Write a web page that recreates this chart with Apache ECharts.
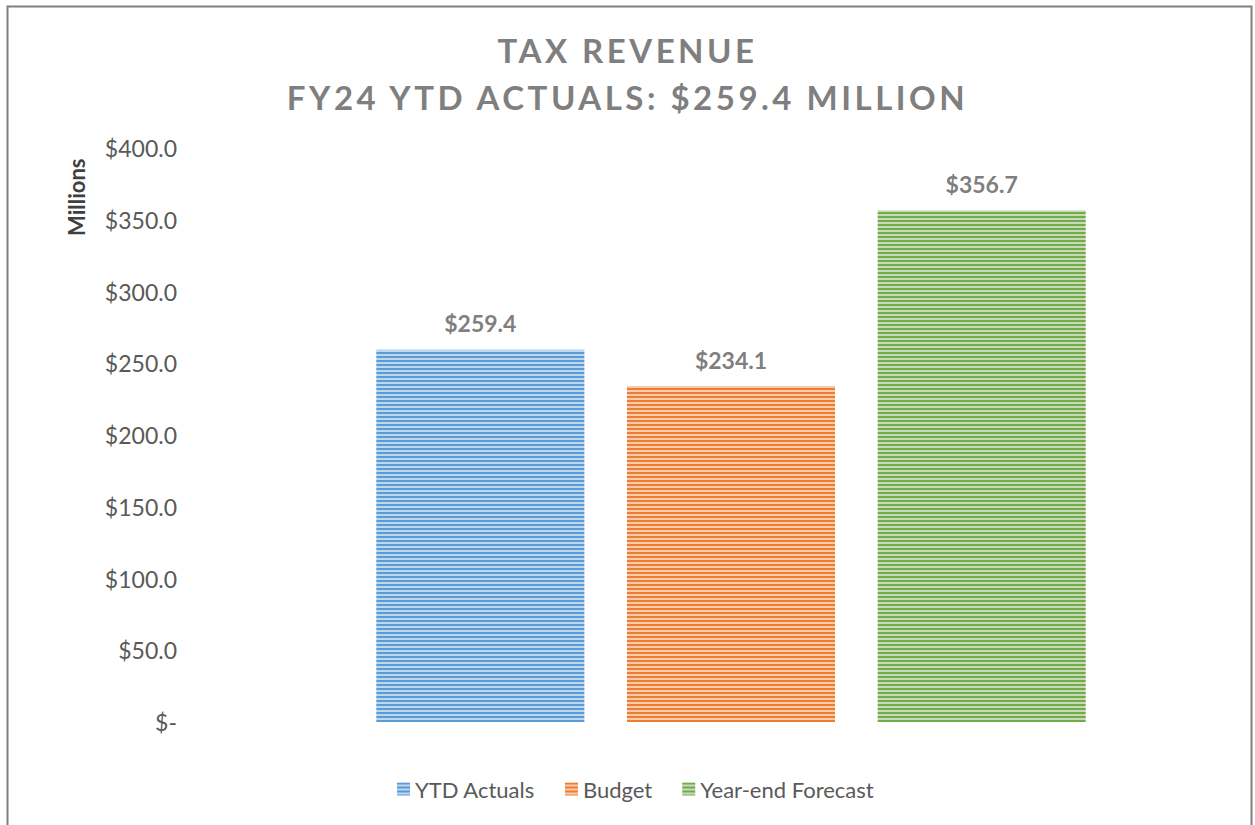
<!DOCTYPE html>
<html>
<head>
<meta charset="utf-8">
<script src="https://cdn.jsdelivr.net/npm/echarts@6/dist/echarts.min.js"></script>
<style>
  html, body { margin: 0; padding: 0; background: #fff; }
  #chart { width: 1255px; height: 825px; }
  /* Excel-style spaced title letters */
  #chart text[style*="TitleFace"] { letter-spacing: 3.5px; }
</style>
</head>
<body>
<div id="chart"></div>
<script>
const categories = ['YTD Actuals', 'Budget', 'Year-end Forecast']
const values = [259.4, 234.1, 356.7]
const yTickLabels = ['$-', '$50.0', '$100.0', '$150.0', '$200.0', '$250.0', '$300.0', '$350.0', '$400.0']
const barColors = [['#5B9BD5', '#BDD7EE'], ['#ED7D31', '#F8CBAD'], ['#70AD47', '#C9D9BE']]

// horizontal stripe fill
function stripes (dark, light) {
  const c = document.createElement('canvas')
  c.width = 4
  c.height = 4
  const ctx = c.getContext('2d')
  ctx.fillStyle = light
  ctx.fillRect(0, 0, 4, 4)
  ctx.fillStyle = dark
  ctx.fillRect(0, 0, 4, 2)
  return { image: c.toDataURL(), repeat: 'repeat' }
}

const chart = echarts.init(document.getElementById('chart'), null, { renderer: 'svg' })

const series = categories.map((name, i) => ({
  name: name,
  type: 'bar',
  stack: 'one',
  barCategoryGap: '17%',
  data: categories.map((c, j) => (j === i ? values[i] : '-')),
  itemStyle: { color: stripes(barColors[i][0], barColors[i][1]) },
  label: {
    show: true,
    position: 'top',
    distance: 15,
    color: '#7f7f7f',
    fontFamily: 'Lato',
    fontWeight: 'bold',
    fontSize: 23,
    formatter: p => '$' + p.value.toFixed(1)
  }
}))

chart.setOption({
  animation: false,
  title: {
    text: 'TAX REVENUE\nFY24 YTD ACTUALS: $259.4 MILLION',
    left: 'center',
    top: 21,
    textStyle: {
      fontFamily: 'Lato, TitleFace',
      fontWeight: 'bold',
      fontSize: 33,
      lineHeight: 47,
      color: '#7f7f7f'
    }
  },
  legend: {
    bottom: 20,
    left: 392,
    itemWidth: 13,
    itemHeight: 13,
    itemGap: 30,
    icon: 'rect',
    textStyle: { fontFamily: 'Lato', fontSize: 22, color: '#595959' },
    data: categories
  },
  grid: { left: 355, right: 148, top: 148, bottom: 103 },
  xAxis: {
    type: 'category',
    data: categories,
    axisLine: { show: false },
    axisTick: { show: false },
    axisLabel: { show: false }
  },
  yAxis: {
    type: 'value',
    min: 0,
    max: 400,
    interval: 50,
    axisLine: { show: false },
    axisTick: { show: false },
    splitLine: { show: false },
    axisLabel: {
      margin: 178,
      fontFamily: 'Lato',
      fontSize: 23,
      color: '#595959',
      formatter: v => yTickLabels[Math.round(v / 50)]
    }
  },
  graphic: [
    {
      type: 'rect',
      silent: true,
      shape: { x: 7.5, y: 6.5, width: 1244, height: 900 },
      style: { fill: 'none', stroke: '#7f7f7f', lineWidth: 2 }
    },
    {
      type: 'text',
      x: 65,
      y: 236,
      rotation: Math.PI / 2,
      style: {
        text: 'Millions',
        fontFamily: 'Lato',
        fontWeight: 'bold',
        fontSize: 22,
        fill: '#404040'
      }
    }
  ],
  series: series
})
</script>
</body>
</html>
